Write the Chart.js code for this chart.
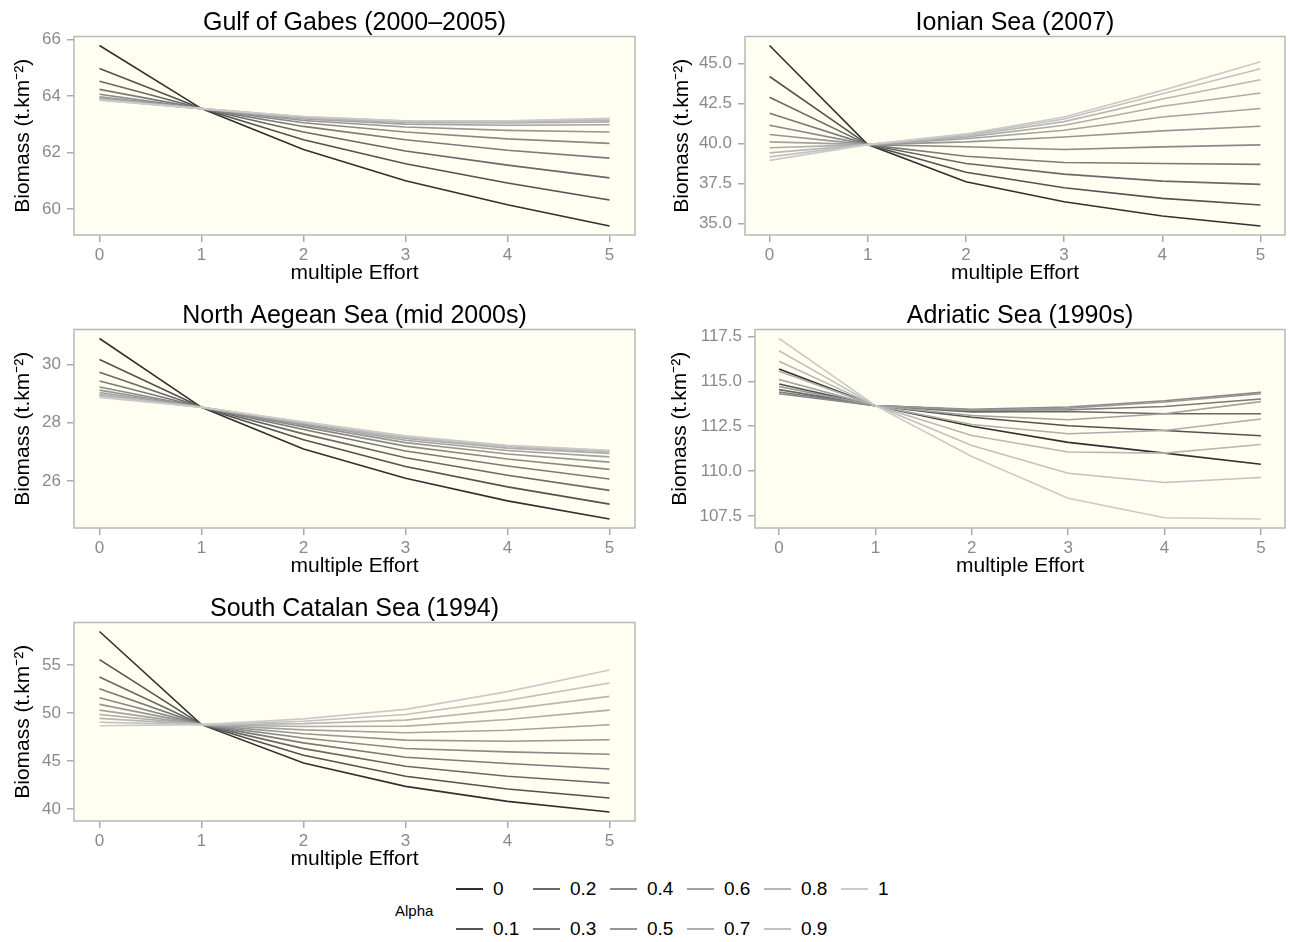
<!DOCTYPE html>
<html>
<head>
<meta charset="utf-8">
<title>Biomass under multiple Effort</title>
<script src="https://cdn.jsdelivr.net/npm/chart.js@4.4.1/dist/chart.umd.min.js"></script>
<style>
  body { margin: 0; background: #fff; font-family: 'Liberation Sans', Arial, sans-serif; }
  #page { position: relative; width: 1292px; height: 942px; overflow: hidden; }
  .panel { position: absolute; }
  .legend-title { position: absolute; font-size: 15px; color: #000; }
  .legend-item { position: absolute; height: 24px; display: flex; align-items: center; }
  .legend-item .key { width: 27px; height: 2px; margin-right: 10px; }
  .legend-item span { font-size: 19px; color: #000; }
</style>
</head>
<body>
<div id="page"></div>
<script>
/* x values and alpha levels */
const effort = [0, 1, 2, 3, 4, 5];
const alphaLabels = ['0', '0.1', '0.2', '0.3', '0.4', '0.5', '0.6', '0.7', '0.8', '0.9', '1'];

/* Biomass per alpha level (rows) */
const gabes = [
    [65.78, 63.55, 62.10, 61.00, 60.15, 59.40],
    [64.97, 63.55, 62.45, 61.60, 60.92, 60.32],
    [64.52, 63.55, 62.72, 62.05, 61.55, 61.10],
    [64.23, 63.55, 62.92, 62.45, 62.08, 61.80],
    [64.06, 63.55, 63.05, 62.72, 62.48, 62.32],
    [63.97, 63.55, 63.13, 62.90, 62.78, 62.72],
    [63.92, 63.55, 63.18, 63.00, 62.96, 62.98],
    [63.89, 63.55, 63.22, 63.06, 63.04, 63.08],
    [63.87, 63.55, 63.24, 63.09, 63.08, 63.14],
    [63.86, 63.55, 63.26, 63.11, 63.10, 63.18],
    [63.85, 63.55, 63.27, 63.12, 63.12, 63.21]
];
const ionian = [
    [46.14, 39.93, 37.60, 36.35, 35.46, 34.83],
    [44.20, 39.93, 38.20, 37.23, 36.56, 36.14],
    [42.90, 39.93, 38.75, 38.08, 37.64, 37.44],
    [41.90, 39.93, 39.20, 38.81, 38.75, 38.69],
    [41.14, 39.93, 39.80, 39.62, 39.79, 39.91],
    [40.56, 39.93, 40.10, 40.41, 40.79, 41.08],
    [40.10, 39.93, 40.30, 40.83, 41.66, 42.19],
    [39.73, 39.93, 40.40, 41.14, 42.33, 43.16],
    [39.41, 39.93, 40.48, 41.37, 42.79, 44.00],
    [39.16, 39.93, 40.55, 41.54, 43.12, 44.69],
    [38.94, 39.93, 40.60, 41.66, 43.33, 45.12]
];
const aegean = [
    [30.89, 28.53, 27.10, 26.10, 25.32, 24.70],
    [30.17, 28.53, 27.42, 26.50, 25.80, 25.21],
    [29.73, 28.53, 27.62, 26.80, 26.20, 25.68],
    [29.43, 28.53, 27.77, 27.03, 26.52, 26.07],
    [29.23, 28.53, 27.86, 27.20, 26.76, 26.40],
    [29.12, 28.53, 27.92, 27.32, 26.93, 26.65],
    [29.04, 28.53, 27.96, 27.40, 27.05, 26.83],
    [28.98, 28.53, 27.99, 27.46, 27.13, 26.95],
    [28.94, 28.53, 28.01, 27.50, 27.18, 27.00],
    [28.90, 28.53, 28.02, 27.53, 27.21, 27.04],
    [28.87, 28.53, 28.03, 27.55, 27.23, 27.06]
];
const adriatic = [
    [115.69, 113.65, 112.50, 111.60, 111.00, 110.38],
    [114.85, 113.65, 113.00, 112.53, 112.26, 111.97],
    [114.54, 113.65, 113.30, 113.32, 113.20, 113.20],
    [114.41, 113.65, 113.40, 113.42, 113.60, 114.02],
    [114.31, 113.65, 113.45, 113.57, 113.92, 114.39],
    [114.72, 113.65, 113.40, 113.50, 113.85, 114.31],
    [115.10, 113.65, 113.10, 112.86, 113.20, 113.87],
    [115.56, 113.65, 112.60, 112.08, 112.26, 112.90],
    [116.12, 113.65, 111.98, 111.06, 111.00, 111.48],
    [116.71, 113.65, 111.42, 109.88, 109.36, 109.64],
    [117.39, 113.65, 110.81, 108.49, 107.40, 107.33]
];
const catalan = [
    [58.51, 48.80, 44.80, 42.36, 40.80, 39.69],
    [55.58, 48.80, 45.60, 43.41, 42.09, 41.15],
    [53.77, 48.80, 46.30, 44.46, 43.41, 42.68],
    [52.55, 48.80, 46.90, 45.40, 44.74, 44.18],
    [51.61, 48.80, 47.40, 46.31, 45.96, 45.71],
    [50.91, 48.80, 47.85, 47.18, 47.07, 47.22],
    [50.31, 48.80, 48.25, 47.95, 48.22, 48.78],
    [49.86, 48.80, 48.60, 48.64, 49.34, 50.31],
    [49.45, 48.80, 48.90, 49.27, 50.39, 51.75],
    [49.05, 48.80, 49.15, 49.86, 51.33, 53.14],
    [48.68, 48.80, 49.40, 50.39, 52.24, 54.50]
];

/* y tick labels for each panel */
const gabesTicks = [60, 62, 64, 66];
const ionianTicks = [35, 37.5, 40, 42.5, 45];
const aegeanTicks = [26, 28, 30];
const adriaticTicks = [107.5, 110, 112.5, 115, 117.5];
const catalanTicks = [40, 45, 50, 55];

const FONT = "'Liberation Sans', Arial, sans-serif";
/* grey scale from dark (alpha 0) to light (alpha 1) */
const greys = ['#303030', '#525252', '#686868', '#7a7a7a', '#898989', '#969696',
               '#a2a2a2', '#adadad', '#b7b7b7', '#c1c1c1', '#cacaca'];

const panels = [
    { title: 'Gulf of Gabes (2000\u20132005)', rows: gabes, ticks: gabesTicks, dec: 0,
      left: 0, top: 0, axisW: 74, padRight: 11, titlePad: 11 },
    { title: 'Ionian Sea (2007)', rows: ionian, ticks: ionianTicks, dec: 1,
      left: 646, top: 0, axisW: 99, padRight: 7, titlePad: 24 },
    { title: 'North Aegean Sea (mid 2000s)', rows: aegean, ticks: aegeanTicks, dec: 0,
      left: 0, top: 293, axisW: 74, padRight: 11, titlePad: 11 },
    { title: 'Adriatic Sea (1990s)', rows: adriatic, ticks: adriaticTicks, dec: 1,
      left: 646, top: 293, axisW: 109, padRight: 7, titlePad: 22 },
    { title: 'South Catalan Sea (1994)', rows: catalan, ticks: catalanTicks, dec: 0,
      left: 0, top: 586, axisW: 74, padRight: 11, titlePad: 11 }
];

/* ivory panel background and grey frame */
const panelFrame = {
    id: 'panelFrame',
    beforeDraw(chart) {
        const { ctx, chartArea: a } = chart;
        ctx.save();
        ctx.fillStyle = '#fefef1';
        ctx.fillRect(a.left, a.top, a.right - a.left, a.bottom - a.top);
        ctx.restore();
    },
    afterDraw(chart) {
        const { ctx, chartArea: a } = chart;
        ctx.save();
        ctx.strokeStyle = '#b8b8b8';
        ctx.lineWidth = 1.5;
        ctx.strokeRect(a.left, a.top, a.right - a.left, a.bottom - a.top);
        ctx.restore();
    }
};

function yLimits(rows) {
    const all = rows.flat();
    const lo = Math.min(...all), hi = Math.max(...all);
    const pad = (hi - lo) * 0.05;
    return [lo - pad, hi + pad];
}

const page = document.getElementById('page');

panels.forEach(p => {
    const canvas = document.createElement('canvas');
    canvas.className = 'panel';
    canvas.width = 646;
    canvas.height = 290;
    canvas.style.left = p.left + 'px';
    canvas.style.top = p.top + 'px';
    page.appendChild(canvas);

    const [ymin, ymax] = yLimits(p.rows);
    const n = p.rows.length;

    new Chart(canvas.getContext('2d'), {
        type: 'line',
        data: {
            datasets: p.rows.map((row, i) => ({
                label: alphaLabels[i],
                data: effort.map((x, j) => ({ x: x, y: row[j] })),
                borderColor: greys[i],
                backgroundColor: greys[i],
                borderWidth: 1.6,
                pointRadius: 0,
                fill: false,
                tension: 0,
                order: n - 1 - i
            }))
        },
        options: {
            responsive: false,
            animation: false,
            devicePixelRatio: 1,
            layout: { padding: { left: 0, right: p.padRight, top: 0, bottom: 0 } },
            plugins: {
                legend: { display: false },
                tooltip: { enabled: false },
                title: {
                    display: true,
                    text: p.title,
                    fullSize: false,
                    color: '#000',
                    font: { family: FONT, size: 25, weight: 'normal', lineHeight: 1.1 },
                    padding: { top: 9, bottom: 0 }
                }
            },
            scales: {
                x: {
                    type: 'linear',
                    min: -0.25,
                    max: 5.25,
                    afterBuildTicks: s => { s.ticks = effort.map(v => ({ value: v })); },
                    afterFit: s => { s.height = 55; },
                    border: { display: false },
                    grid: { drawOnChartArea: false, drawTicks: true, tickLength: 7, color: '#aaaaaa', lineWidth: 1.5 },
                    ticks: { color: '#8a8a8a', font: { family: FONT, size: 17 }, padding: 3, maxRotation: 0, autoSkip: false },
                    title: { display: true, text: 'multiple Effort', color: '#000',
                             font: { family: FONT, size: 21 }, padding: { top: 0, bottom: 4 } }
                },
                y: {
                    type: 'linear',
                    min: ymin,
                    max: ymax,
                    afterBuildTicks: s => { s.ticks = p.ticks.map(v => ({ value: v })); },
                    afterFit: s => { s.width = p.axisW; },
                    border: { display: false },
                    grid: { drawOnChartArea: false, drawTicks: true, tickLength: 7, color: '#aaaaaa', lineWidth: 1.5 },
                    ticks: { color: '#8a8a8a', font: { family: FONT, size: 17 }, padding: 6,
                             callback: v => Number(v).toFixed(p.dec) },
                    title: { display: true, text: 'Biomass (t.km\u207B\u00B2)', color: '#000',
                             font: { family: FONT, size: 21 }, padding: { top: p.titlePad, bottom: 0 } }
                }
            }
        },
        plugins: [panelFrame]
    });
});

/* legend: Alpha, two rows filled column by column */
const legendTitle = document.createElement('div');
legendTitle.className = 'legend-title';
legendTitle.textContent = 'Alpha';
legendTitle.style.left = '395px';
legendTitle.style.top = '902px';
page.appendChild(legendTitle);

alphaLabels.forEach((lab, i) => {
    const col = Math.floor(i / 2), row = i % 2;
    const item = document.createElement('div');
    item.className = 'legend-item';
    item.style.left = (456 + col * 77) + 'px';
    item.style.top = (row === 0 ? 877 : 917) + 'px';
    const key = document.createElement('div');
    key.className = 'key';
    key.style.background = greys[i];
    const txt = document.createElement('span');
    txt.textContent = lab;
    item.appendChild(key);
    item.appendChild(txt);
    page.appendChild(item);
});
</script>
</body>
</html>
